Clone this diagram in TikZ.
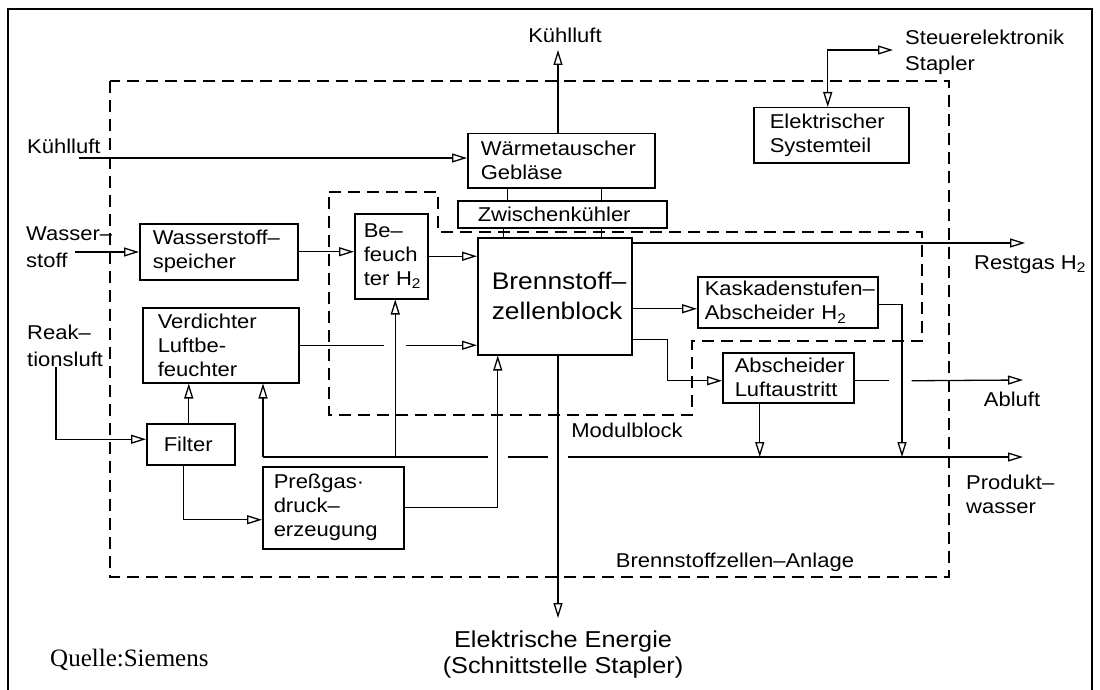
\documentclass[tikz,border=0pt]{standalone}
\usepackage{fontspec}
\setmainfont{Liberation Sans}[FakeStretch=1.1]
\newfontfamily\qfont{Liberation Serif}
\usetikzlibrary{arrows.meta}
\hyphenpenalty=10000
\begin{document}
\begin{tikzpicture}[x=1pt,y=-1pt,
  every node/.style={font=\fontsize{20}{24}\selectfont},
  bx/.style={draw, line width=1.5pt, anchor=north west, align=left, inner ysep=0pt},
  ln/.style={line width=1.3pt},
  tip/.tip={Triangle[open,length=15pt,width=9pt]},
  arr/.style={ln, -tip},
  darr/.style={ln, tip-tip},
  dsh/.style={line width=1.6pt, dash pattern=on 12pt off 7pt},
  lbl/.style={inner sep=0pt}]
\useasboundingbox (0,0) rectangle (1100,690);
% frame
\draw[line width=2.5pt] (8,692) -- (8,9) -- (1092,9) -- (1092,692);
% dashed outlines
\draw[dsh] (110,81) rectangle (949,577);
\draw[dsh] (329,192) -- (438,192) -- (438,232) -- (922,232) -- (922,341) -- (692,341) -- (692,415) -- (329,415) -- cycle;
% boxes
\node[bx, minimum width=187pt, minimum height=54pt, inner xsep=13pt, text width=161pt] (waerme) at (467,133) {\mbox{Wärmetauscher}\\Gebläse};
\node[bx, minimum width=209pt, minimum height=27pt, inner xsep=20pt, text width=169pt] (zw) at (457,200) {\mbox{Zwischenkühler}};
\node[bx, minimum width=154pt, minimum height=117pt, inner xsep=14pt, text width=126pt, font=\fontsize{24}{30}\selectfont] (bzb) at (477,237) {\mbox{Brennstoff–}\\\mbox{zellenblock}};
\node[bx, minimum width=155pt, minimum height=55pt, inner xsep=16pt, text width=123pt] (elek) at (753,107) {\mbox{Elektrischer}\\\mbox{Systemteil}};
\node[bx, minimum width=158pt, minimum height=56pt, inner xsep=13pt, text width=132pt] (wsp) at (139,223) {\mbox{Wasserstoff–}\\\mbox{speicher}};
\node[bx, minimum width=73pt, minimum height=85pt, inner xsep=9pt, text width=55pt] (bef) at (354,213) {\mbox{Be–}\\\mbox{feuch}\\\mbox{ter H\textsubscript{2}}};
\node[bx, minimum width=156pt, minimum height=75pt, inner xsep=15pt, text width=126pt] (verd) at (142,307) {\mbox{Verdichter}\\\mbox{Luftbe-}\\\mbox{feuchter}};
\node[bx, minimum width=88pt, minimum height=41pt, inner xsep=17pt, text width=54pt] (filter) at (146,423) {\mbox{Filter}};
\node[bx, minimum width=141pt, minimum height=82pt, inner xsep=11pt, text width=119pt] (press) at (262,466) {\mbox{Preßgas·}\\\mbox{druck–}\\\mbox{erzeugung}};
\node[bx, minimum width=180pt, minimum height=51pt, inner xsep=7pt, text width=166pt] (kask) at (697,276) {\mbox{Kaskadenstufen–}\\\mbox{Abscheider H\textsubscript{2}}};
\node[bx, minimum width=131pt, minimum height=50pt, inner xsep=12pt, text width=107pt] (absch) at (722,352) {\mbox{Abscheider}\\\mbox{Luftaustritt}};
% labels
\node[lbl] (lkltop) at (565,35) {Kühlluft};
\node[lbl, anchor=west] (lklleft) at (27,146) {Kühlluft};
\node[lbl, anchor=west, align=left, font=\fontsize{20}{27}\selectfont] (lws) at (26,247) {Wasser–\\stoff};
\node[lbl, anchor=west, align=left, font=\fontsize{20}{27}\selectfont] (lrl) at (27,346) {Reak–\\tionsluft};
\node[lbl, anchor=west, align=left, font=\fontsize{20}{26}\selectfont] (lst) at (905,52) {Steuerelektronik\\Stapler};
\node[lbl] (lrg) at (1030,265) {Restgas H\textsubscript{2}};
\node[lbl] (lal) at (1012,399) {Abluft};
\node[lbl, anchor=west, align=left] (lpw) at (966,494) {Produkt–\\wasser};
\node[lbl] (lmb) at (627,430) {Modulblock};
\node[lbl] (lbza) at (735,562) {Brennstoffzellen–Anlage};
\node[lbl, align=center, font=\fontsize{23}{26}\selectfont] (lee) at (563,655) {Elektrische Energie\\(Schnittstelle Stapler)};
\node[lbl, anchor=west, font=\fontsize{25}{27}\qfont] (lq) at (50,660) {Quelle:Siemens};
% free ends
\coordinate (klin) at (79,158);
\coordinate (klout) at (558,50);
\coordinate (st) at (893,50);
\coordinate (wsin) at (75,252);
\coordinate (rlin) at (56,367);
\coordinate (ee) at (558,618);
\coordinate (w0) at (263,457);
\coordinate (pw) at (1023,457);
\coordinate (rg) at (1025,243);
\coordinate (al) at (1023,380);
\coordinate (kd) at (902,457);
% helper anchors
\coordinate (c1) at ([xshift=-53.5pt]waerme.south);
\coordinate (c2) at ([xshift=40.5pt]waerme.south);
\coordinate (c3) at ([xshift=-58.5pt]zw.south);
\coordinate (c4) at ([xshift=39.5pt]zw.south);
\coordinate (ek) at ([xshift=-3.5pt]elek.north);
\coordinate (fin) at ([yshift=5pt]filter.west);
\coordinate (fu) at ([xshift=-2pt]filter.north);
\coordinate (fd) at ([xshift=-7pt]filter.south);
\coordinate (pin) at ([yshift=-12pt]press.west);
\coordinate (bzbb) at ([xshift=-57pt]bzb.south);
\coordinate (vg1) at ([xshift=84pt]verd.east);
\coordinate (vg2) at ([xshift=106pt]verd.east);
\coordinate (bfu) at ([xshift=4pt]bef.south);
\coordinate (kin) at ([yshift=-6.5pt]kask.west);
\coordinate (bo) at ([yshift=-43.5pt]bzb.east);
\coordinate (ain) at ([yshift=-3pt]absch.west);
\coordinate (ao) at ([yshift=-3pt]absch.east);
\coordinate (ad) at ([xshift=-28.5pt]absch.south);
\path (bzbb |- w0) coordinate (cr1);
\path (ee |- w0) coordinate (cr2);
% connectors
\draw[arr] (klin) -- (klin -| waerme.west);
\draw[arr] (klout |- waerme.north) -- (klout);
\draw[ln] (c1) -- (c1 |- zw.north);
\draw[ln] (c2) -- (c2 |- zw.north);
\draw[ln] (c3) -- (c3 |- bzb.north);
\draw[ln] (c4) -- (c4 |- bzb.north);
\draw[darr] (ek) |- (st);
\draw[arr] (wsin) -- (wsin -| wsp.west);
\draw[arr] (wsp.east) -- (wsp.east -| bef.west);
\draw[arr] (bef.east) -- (bef.east -| bzb.west);
\draw[arr] (rlin) |- (fin);
\draw[arr] (fu) -- (fu |- verd.south);
\draw[arr] (fd) |- (pin);
\draw[arr] (press.east) -| (bzbb);
\draw[ln] (verd.east) -- (vg1);
\draw[arr] (vg2) -- (vg2 -| bzb.west);
\draw[arr] (ee |- bzb.south) -- (ee);
\draw[arr] (w0) -- (w0 |- verd.south);
\draw[arr] (bfu |- w0) -- (bfu);
\draw[ln] (w0) -- ([xshift=-10pt]cr1);
\draw[ln] ([xshift=10pt]cr1) -- ([xshift=-10pt]cr2);
\draw[arr] ([xshift=10pt]cr2) -- (pw);
\draw[arr] (bzb.east |- rg) -- (rg);
\draw[arr] (bzb.east |- kin) -- (kin);
\draw[arr] ([yshift=-2.5pt]kask.east) -| (kd);
\draw[arr] (bo) -- ++(35,0) |- (ain);
\draw[ln] (ao) -- ++(34,0);
\draw[arr] ([xshift=57pt]ao) -- (al);
\draw[arr] (ad) -- (ad |- w0);
\end{tikzpicture}
\end{document}
